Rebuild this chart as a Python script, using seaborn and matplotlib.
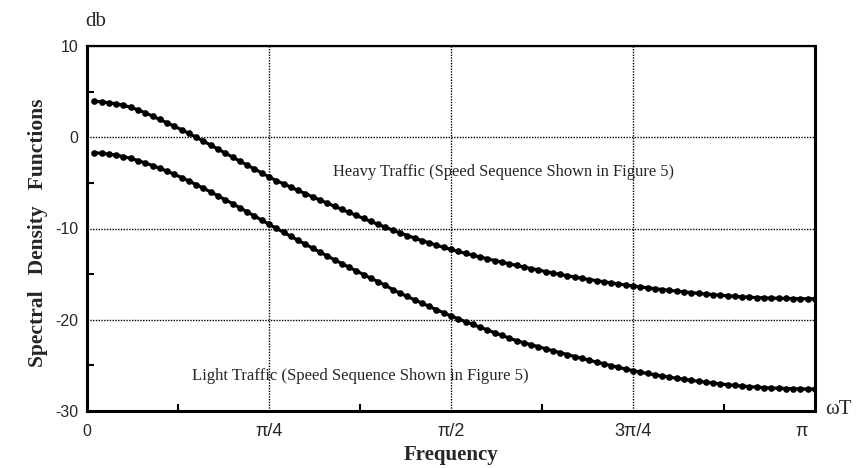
import numpy as np
import pandas as pd
import matplotlib
matplotlib.use("Agg")
import matplotlib.pyplot as plt
import matplotlib.transforms as mtransforms
from matplotlib.ticker import FixedLocator
import seaborn as sns

# Spectral density (dB) sampled at omega*T = k*pi/100, k = 1..100
heavy_db = [
    3.95, 3.88, 3.78, 3.66, 3.50, 3.28, 3.00, 2.68, 2.32, 1.95,
    1.58, 1.20, 0.82, 0.42, 0.00, -0.43, -0.87, -1.30, -1.74, -2.18,
    -2.62, -3.05, -3.48, -3.90, -4.36, -4.74, -5.11, -5.47, -5.83, -6.18,
    -6.53, -6.88, -7.22, -7.56, -7.90, -8.24, -8.57, -8.90, -9.23, -9.55,
    -9.87, -10.18, -10.48, -10.77, -11.05, -11.32, -11.58, -11.83, -12.07, -12.30,
    -12.52, -12.73, -12.93, -13.13, -13.32, -13.51, -13.69, -13.87, -14.05, -14.22,
    -14.39, -14.56, -14.72, -14.88, -15.03, -15.18, -15.32, -15.46, -15.59, -15.72,
    -15.84, -15.96, -16.08, -16.19, -16.30, -16.40, -16.50, -16.60, -16.69, -16.78,
    -16.87, -16.95, -17.03, -17.11, -17.18, -17.25, -17.32, -17.38, -17.44, -17.49,
    -17.53, -17.57, -17.60, -17.63, -17.65, -17.67, -17.68, -17.69, -17.70, -17.70,
]
light_db = [
    -1.70, -1.76, -1.84, -1.96, -2.12, -2.32, -2.56, -2.82, -3.10, -3.40,
    -3.72, -4.06, -4.42, -4.80, -5.19, -5.59, -6.00, -6.42, -6.85, -7.28,
    -7.73, -8.18, -8.63, -9.08, -9.53, -9.98, -10.42, -10.86, -11.30, -11.73,
    -12.16, -12.59, -13.01, -13.43, -13.84, -14.25, -14.65, -15.05, -15.45, -15.84,
    -16.23, -16.70, -17.08, -17.45, -17.82, -18.18, -18.54, -18.89, -19.24, -19.58,
    -19.90, -20.21, -20.52, -20.82, -21.12, -21.42, -21.72, -22.01, -22.30, -22.52,
    -22.74, -22.96, -23.18, -23.40, -23.61, -23.82, -24.03, -24.24, -24.44, -24.64,
    -24.84, -25.03, -25.22, -25.40, -25.58, -25.74, -25.89, -26.03, -26.16, -26.29,
    -26.41, -26.53, -26.64, -26.74, -26.84, -26.94, -27.03, -27.12, -27.20, -27.27,
    -27.33, -27.39, -27.44, -27.48, -27.51, -27.54, -27.56, -27.58, -27.59, -27.60,
]
omega = np.arange(1, len(heavy_db) + 1) * np.pi / len(heavy_db)

x_ticks = [0, np.pi / 4, np.pi / 2, 3 * np.pi / 4, np.pi]
x_labels = ["0", "π/4", "π/2", "3π/4", "π"]
y_ticks = [-30, -20, -10, 0, 10]
y_labels = ["-30", "-20", "-10", "0", "10"]

df = pd.DataFrame({
    "omega": np.concatenate([omega, omega]),
    "db": np.concatenate([heavy_db, light_db]),
    "traffic": ["heavy"] * len(heavy_db) + ["light"] * len(light_db),
})

sns.set_style("white")
serif = ["Liberation Serif", "DejaVu Serif"]
sans = ["Liberation Sans", "DejaVu Sans"]

fig = plt.figure(figsize=(8.57, 4.68), dpi=100)
ax = fig.add_axes([87 / 857, 1 - 411 / 468, (815 - 87) / 857, (411 - 46) / 468])

sns.lineplot(data=df, x="omega", y="db", units="traffic", estimator=None,
             color="black", linewidth=2.3, marker="o", markersize=4.8,
             markeredgewidth=0, ax=ax, legend=False)

ax.set_xlim(0, np.pi)
ax.set_ylim(-30, 10)
ax.set_xticks(x_ticks)
ax.set_xticklabels(x_labels, fontfamily=sans, fontsize=13)
ax.set_yticks(y_ticks)
ax.set_yticklabels(y_labels, fontfamily=sans, fontsize=11.5)
ax.tick_params(axis="x", which="major", length=0, pad=9)
ax.tick_params(axis="y", which="major", length=0, pad=6)
xlabels = ax.get_xticklabels()
xlabels[0].set_fontsize(11.5)
xlabels[-1].set_transform(xlabels[-1].get_transform()
                          + mtransforms.ScaledTranslation(-0.13, 0, fig.dpi_scale_trans))
ax.xaxis.set_minor_locator(FixedLocator([np.pi / 8, 3 * np.pi / 8, 5 * np.pi / 8, 7 * np.pi / 8]))
ax.yaxis.set_minor_locator(FixedLocator([-25, -15, -5, 5]))
ax.tick_params(axis="both", which="minor", direction="in", length=5, width=1.5,
               color="black", bottom=True, left=True)

ax.grid(True, which="major", color="black", linestyle=(0, (1, 1)), linewidth=1.0)
for side in ["left", "bottom", "right", "top"]:
    ax.spines[side].set_visible(True)
    ax.spines[side].set_color("black")
ax.spines["left"].set_linewidth(2.2)
ax.spines["bottom"].set_linewidth(2.2)
ax.spines["right"].set_linewidth(2.2)
ax.spines["top"].set_linewidth(1.6)

ax.set_xlabel("")
ax.set_ylabel("")

ax.text(333 / 857, 1 - 172 / 468, "Heavy Traffic (Speed Sequence Shown in Figure 5)",
        transform=fig.transFigure, fontfamily=serif, fontsize=11.9, ha="left", va="center")
ax.text(192 / 857, 1 - 376 / 468, "Light Traffic (Speed Sequence Shown in Figure 5)",
        transform=fig.transFigure, fontfamily=serif, fontsize=12.0, ha="left", va="center")

fig.text(85 / 857, 1 - 22 / 468, "db", fontfamily=serif, fontsize=15, ha="left", va="center")
fig.text(825 / 857, 1 - 410 / 468, "ωT", fontfamily=serif, fontsize=15, ha="left", va="center")
fig.text(451 / 857, 1 - 455 / 468, "Frequency", fontfamily=serif, fontsize=15,
         fontweight="bold", ha="center", va="center")
fig.text(38 / 857, 1 - 233 / 468, "Spectral   Density   Functions", fontfamily=serif,
         fontsize=15.5, fontweight="bold", rotation=90, ha="center", va="center")

fig.savefig("out.png", dpi=100, facecolor="white")
